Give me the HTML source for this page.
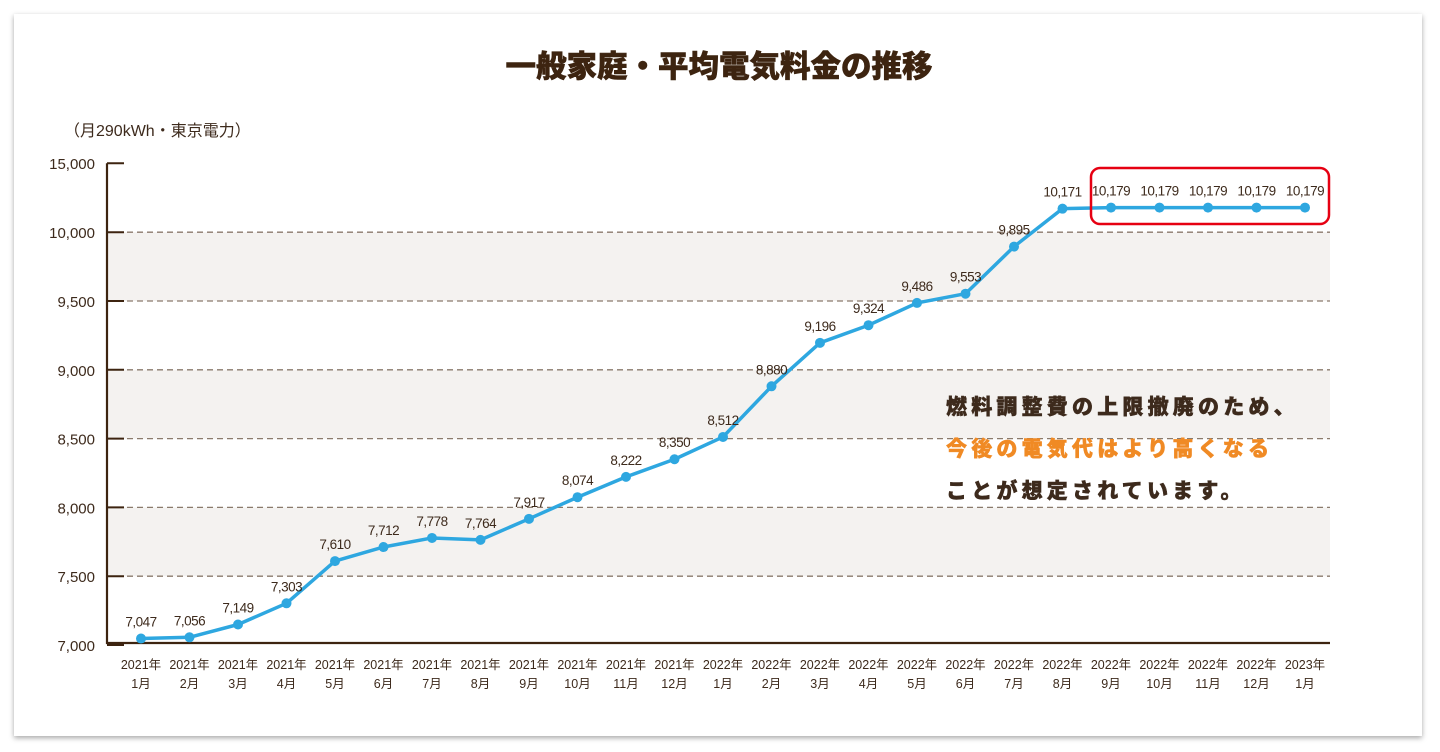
<!DOCTYPE html>
<html><head><meta charset="utf-8"><style>
html,body{margin:0;padding:0;background:#fff;width:1440px;height:752px;overflow:hidden}
#card{position:absolute;left:14px;top:14px;width:1408px;height:722px;background:#fff;box-shadow:0 2px 5px rgba(0,0,0,0.35)}
svg{position:absolute;left:0;top:0}
text{font-family:"Liberation Sans","Noto Sans CJK JP",sans-serif;fill:#3d2a1c}
</style></head><body>
<div id="card"></div>
<svg id="chart" width="1440" height="752">
<text x="719" y="77" text-anchor="middle" font-size="30.5" font-weight="900" style="fill:#3d2410;stroke:#3d2410;stroke-width:0.6">一般家庭・平均電気料金の推移</text>
<text x="64" y="136" font-size="16">（月290kWh・東京電力）</text>
<g id="bands"></g><g id="grid"></g><g id="axes"></g><g id="series"></g><g id="labels"></g>
<rect x="1091" y="168" width="238" height="56" rx="9" fill="none" stroke="#e60012" stroke-width="2.5"/>
<g font-size="21" font-weight="900" letter-spacing="4.2" style="stroke-width:0.5">
<text x="946" y="414" style="stroke:#3d2a1c">燃料調整費の上限撤廃のため、</text>
<text x="946" y="456" style="fill:#f08a24;stroke:#f08a24">今後の電気代はより高くなる</text>
<text x="946" y="498" style="stroke:#3d2a1c">ことが想定されています。</text>
</g>
</svg>
<script>
const months=["2021年|1月","2021年|2月","2021年|3月","2021年|4月","2021年|5月","2021年|6月","2021年|7月","2021年|8月","2021年|9月","2021年|10月","2021年|11月","2021年|12月","2022年|1月","2022年|2月","2022年|3月","2022年|4月","2022年|5月","2022年|6月","2022年|7月","2022年|8月","2022年|9月","2022年|10月","2022年|11月","2022年|12月","2023年|1月"];
const prices=[7047,7056,7149,7303,7610,7712,7778,7764,7917,8074,8222,8350,8512,8880,9196,9324,9486,9553,9895,10171,10179,10179,10179,10179,10179];
const tickValues=[7000,7500,8000,8500,9000,9500,10000];
const tickLabels=["7,000","7,500","8,000","8,500","9,000","9,500","10,000"];
const topTickLabel="15,000";
const NS="http://www.w3.org/2000/svg";
const X0=141,DX=48.5,Y0=645,PX=68.8/500,AX=107,GR=1330;
function xs(i){return X0+i*DX}
function ys(v){return Y0-(v-7000)*PX}
function mk(p,tag,a){const e=document.createElementNS(NS,tag);for(const k in a)e.setAttribute(k,a[k]);document.getElementById(p).appendChild(e);return e}
for(let k=0;k<tickValues.length-1;k++){if(k%2===1){const r=mk('bands','rect',{x:AX,y:ys(tickValues[k+1]),width:GR-AX,height:ys(tickValues[k])-ys(tickValues[k+1]),fill:'#f4f2f0'});

}}
tickValues.forEach((v,k)=>{
 if(k>0){const l=mk('grid','line',{x1:AX,x2:GR,y1:ys(v),y2:ys(v),stroke:'#8a7a6c','stroke-dasharray':'6,4','stroke-width':1.3});
 
 }
 const t=mk('axes','text',{x:95,y:ys(v)+6,'text-anchor':'end','font-size':15});t.textContent=tickLabels[k];
 
 
 const tk=mk('axes','line',{x1:AX,x2:124,y1:ys(v),y2:ys(v),stroke:'#3d2410','stroke-width':2});
 
 
});
const topY=ys(10000)-69;
const tt=mk('axes','text',{x:95,y:topY+6,'text-anchor':'end','font-size':15});tt.textContent=topTickLabel;


const ttk=mk('axes','line',{x1:AX,x2:124,y1:topY,y2:topY,stroke:'#3d2410','stroke-width':2});


const ax=mk('axes','path',{d:`M${AX},${topY}V${Y0-2}H${GR}`,fill:'none',stroke:'#3d2410','stroke-width':2.2});


months.forEach((m,i)=>{const p=m.split('|');
 const a=mk('axes','text',{x:xs(i),y:669,'text-anchor':'middle','font-size':12.5});a.textContent=p[0];
 
 
 const b=mk('axes','text',{x:xs(i),y:688,'text-anchor':'middle','font-size':12.5});b.textContent=p[1];
 
 });
const line=mk('series','polyline',{points:prices.map((v,i)=>xs(i)+','+ys(v)).join(' '),fill:'none',stroke:'#2ea7e0','stroke-width':3.5,'stroke-linejoin':'round'});


prices.forEach((v,i)=>{
 const c=mk('series','circle',{cx:xs(i),cy:ys(v),r:5,fill:'#2ea7e0'});
 
 
 const t=mk('labels','text',{x:xs(i),y:ys(v)-12,'text-anchor':'middle','font-size':13.5,'letter-spacing':'-0.5'});t.textContent=v.toLocaleString('en-US');
 
 
});
</script>
</body></html>
